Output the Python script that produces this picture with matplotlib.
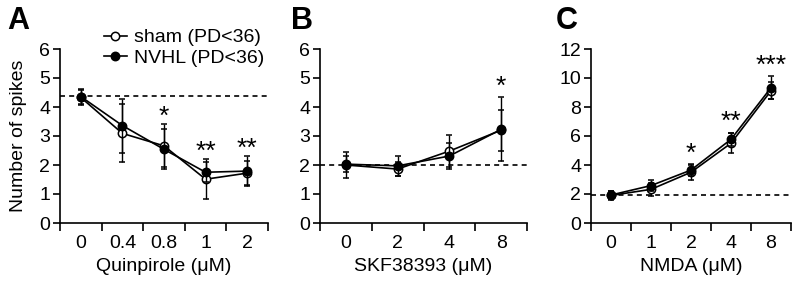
import matplotlib
matplotlib.use("Agg")
import matplotlib.pyplot as plt
from matplotlib.lines import Line2D

plt.rcParams['font.family'] = ['Liberation Sans', 'DejaVu Sans']

# Panel A: Quinpirole
quin_labels = ["0", "0.4", "0.8", "1", "2"]
quin_sham = [4.33, 3.09, 2.66, 1.51, 1.72]
quin_sham_err = [0.27, 1.00, 0.74, 0.69, 0.42]
quin_nvhl = [4.36, 3.36, 2.54, 1.75, 1.79]
quin_nvhl_err = [0.26, 0.93, 0.69, 0.35, 0.52]
quin_baseline = 4.38
quin_stars = ["", "", "*", "**", "**"]

# Panel B: SKF38393
skf_labels = ["0", "2", "4", "8"]
skf_sham = [2.00, 1.86, 2.48, 3.20]
skf_sham_err = [0.45, 0.24, 0.55, 0.70]
skf_nvhl = [2.03, 1.97, 2.31, 3.23]
skf_nvhl_err = [0.27, 0.35, 0.45, 1.10]
skf_baseline = 2.0
skf_stars = ["", "", "", "*"]

# Panel C: NMDA
nmda_labels = ["0", "1", "2", "4", "8"]
nmda_sham = [1.90, 2.32, 3.50, 5.50, 9.12]
nmda_sham_err = [0.30, 0.45, 0.50, 0.70, 0.60]
nmda_nvhl = [1.93, 2.58, 3.65, 5.77, 9.33]
nmda_nvhl_err = [0.25, 0.40, 0.42, 0.45, 0.80]
nmda_baseline = 1.93
nmda_stars = ["", "", "*", "**", "***"]

W, H = 800, 282
fig = plt.figure(figsize=(W / 100, H / 100), dpi=100)
FS = 14

def ax_rect(x0, x1, ytop, ybot):
    return [x0 / W, 1 - ybot / H, (x1 - x0) / W, (ybot - ytop) / H]

axA = fig.add_axes(ax_rect(60, 268, 49, 223))
axB = fig.add_axes(ax_rect(320, 527, 49, 223))
axC = fig.add_axes(ax_rect(591, 791, 49, 223))

def draw(ax, labels, sham, sham_err, nvhl, nvhl_err, baseline, stars, ymax, ystep, xlabel, star_offset):
    n = len(labels)
    xs = list(range(n))
    ax.axhline(baseline, color='black', lw=1.2, ls=(0, (3, 2.5)), zorder=1)
    ax.errorbar(xs, sham, yerr=sham_err, color='black', lw=1.2, elinewidth=1.0,
                capsize=2.2, capthick=1.0, marker='o', ms=6, mfc='white',
                mec='black', mew=1.1, zorder=3)
    ax.errorbar(xs, nvhl, yerr=nvhl_err, color='black', lw=1.2, elinewidth=1.0,
                capsize=2.2, capthick=1.0, marker='o', ms=6, mfc='black',
                mec='black', mew=1.1, zorder=4)
    for x, s, a, b, ea, eb in zip(xs, stars, sham, nvhl, sham_err, nvhl_err):
        if s:
            top = max(a + ea, b + eb)
            ax.text(x, top + star_offset, s, ha='center', va='bottom', fontsize=19)
    ax.set_xlim(-0.5, n - 0.5)
    ax.set_ylim(0, ymax)
    ax.set_xticks([i - 0.5 for i in range(n + 1)])
    ax.set_xticklabels([])
    ax.set_xticks(xs, minor=True)
    ax.set_xticklabels(labels, minor=True)
    ax.tick_params(axis='x', which='major', direction='out', length=6, width=1.2)
    ax.tick_params(axis='x', which='minor', length=0, pad=9, labelsize=FS)
    ax.set_yticks(list(range(0, ymax + 1, ystep)))
    ax.tick_params(axis='y', direction='out', length=5, width=1.2, labelsize=FS, pad=2)
    for sp in ['top', 'right']:
        ax.spines[sp].set_visible(False)
    for sp in ['left', 'bottom']:
        ax.spines[sp].set_linewidth(1.2)
    ax.set_xlabel(xlabel, fontsize=FS, labelpad=4)

draw(axA, quin_labels, quin_sham, quin_sham_err, quin_nvhl, quin_nvhl_err,
     quin_baseline, quin_stars, 6, 1, "Quinpirole (\u03bcM)", -0.15)
draw(axB, skf_labels, skf_sham, skf_sham_err, skf_nvhl, skf_nvhl_err,
     skf_baseline, skf_stars, 6, 1, "SKF38393 (\u03bcM)", -0.05)
draw(axC, nmda_labels, nmda_sham, nmda_sham_err, nmda_nvhl, nmda_nvhl_err,
     nmda_baseline, nmda_stars, 12, 2, "NMDA (\u03bcM)", -0.1)

axA.set_ylabel("Number of spikes", fontsize=FS, labelpad=9)

handles = [
    Line2D([], [], color='black', lw=1.2, marker='o', ms=6, mfc='white', mec='black', mew=1.1),
    Line2D([], [], color='black', lw=1.2, marker='o', ms=6, mfc='black', mec='black', mew=1.1),
]
fig.legend(handles, ["sham (PD<36)", "NVHL (PD<36)"], loc='upper left',
           bbox_to_anchor=(94 / W, 1 - 19 / H), frameon=False, fontsize=FS,
           handlelength=1.2, handletextpad=0.35, labelspacing=0.15, borderpad=0)

for lab, x in [("A", 7), ("B", 291), ("C", 556)]:
    fig.text(x / W, 1 - 21 / H, lab, fontsize=22, fontweight='bold', va='center', ha='left')

fig.savefig("out.png", dpi=100)
